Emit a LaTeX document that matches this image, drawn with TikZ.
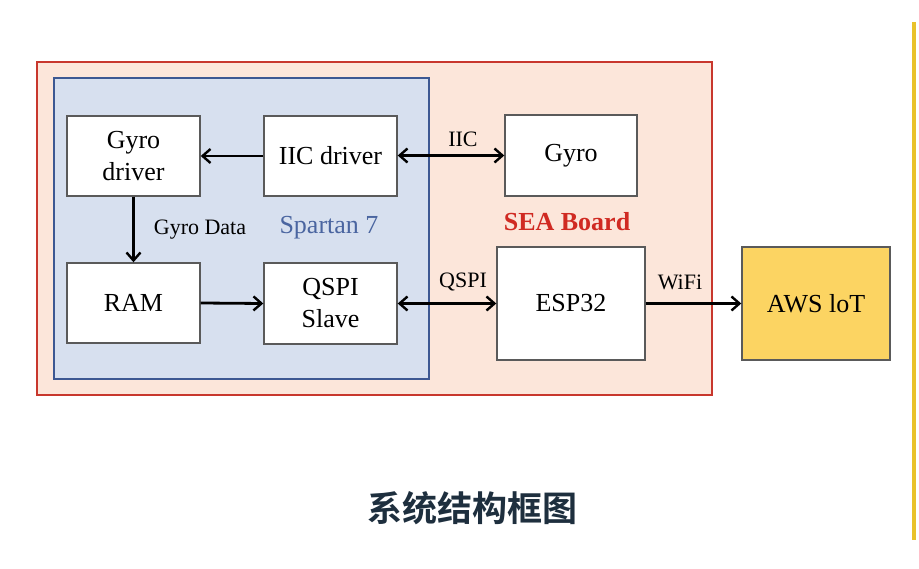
\documentclass[tikz,border=0pt]{standalone}
\usepackage{fontspec}
\setmainfont{Liberation Serif}
\newfontfamily\cjk{Noto Sans CJK SC}[BoldFont={Noto Sans CJK SC Bold}]
\usetikzlibrary{arrows.meta}
\definecolor{peach}{HTML}{FCE6DA}
\definecolor{redline}{HTML}{C8372D}
\definecolor{bluefill}{HTML}{D7E0EF}
\definecolor{blueline}{HTML}{3D5892}
\definecolor{bluetext}{HTML}{4A65A0}
\definecolor{seared}{HTML}{D02A22}
\definecolor{awsfill}{HTML}{FCD462}
\definecolor{yline}{HTML}{E9C22A}
\definecolor{titlec}{HTML}{1E2F3E}
\definecolor{boxline}{HTML}{5A5A5A}
\begin{document}
\begin{tikzpicture}[x=1pt,y=-1pt,
  blockbox/.style={draw=boxline,line width=1.4pt,fill=white,inner sep=0pt,align=center,font=\fontsize{26}{32}\selectfont},
  tip/.style={},
  conn/.style={line width=2.8pt,-{Straight Barb[length=8pt,width=14pt,line width=2.4pt]}},
  bconn/.style={line width=2.8pt,{Straight Barb[length=8pt,width=14pt,line width=2.4pt]}-{Straight Barb[length=8pt,width=14pt,line width=2.4pt]}},
  lbl/.style={font=\fontsize{22}{24}\selectfont}]
\useasboundingbox (0,0) rectangle (919,569);
\fill[white] (0,0) rectangle (919,569);
% yellow vertical line
\draw[yline,line width=4pt] (914,22) -- (914,540);
% SEA board
\node[draw=redline,fill=peach,line width=2pt,minimum width=675pt,minimum height=333pt,inner sep=0pt] (sea) at (374.5,228.5) {};
% Spartan 7
\node[draw=blueline,fill=bluefill,line width=2pt,minimum width=375pt,minimum height=301pt,inner sep=0pt] (spartan) at (241.5,228.5) {};
% blocks
\node[blockbox,minimum width=133pt,minimum height=80pt] (gdrv) at (133.5,156) {Gyro\\driver};
\node[blockbox,minimum width=133pt,minimum height=80pt] (iic) at (330.5,156) {IIC driver};
\node[blockbox,minimum width=133pt,minimum height=80pt] (ram) at (133.5,303) {RAM};
\node[blockbox,minimum width=133pt,minimum height=81pt] (qspi) at (330.5,303.5) {QSPI\\Slave};
\node[blockbox,minimum width=132pt,minimum height=81pt] (gyro) at (571,155.5) {Gyro};
\node[blockbox,minimum width=148pt,minimum height=113pt] (esp) at (571,303.5) {ESP32};
\node[blockbox,fill=awsfill,minimum width=148pt,minimum height=113pt] (aws) at (816,303.5) {AWS loT};
% texts
\node[lbl] (gdata) at (200,230) {Gyro Data};
\node[font=\fontsize{26}{28}\selectfont,text=bluetext] (sp7) at (329,228) {Spartan 7};
\node[font=\bfseries\fontsize{26}{28}\selectfont,text=seared] (seat) at (567,222) {SEA Board};
\node[lbl] (iict) at (463,139) {IIC};
\node[lbl] (qspit) at (463,282) {QSPI};
\node[lbl] (wifit) at (680,282) {WiFi};
\node[font=\cjk\bfseries\fontsize{35}{38}\selectfont,text=titlec] (title) at (472,508) {系统结构框图};
% connectors
\draw[conn] (iic.west) -- (gdrv.east);
\draw[bconn] (iic.east |- gyro.west) -- (gyro.west);
\draw[conn] (gdrv.south) -- (ram.north);
\draw[conn] (ram.east) -- (qspi.west);
\draw[bconn] (qspi.east) -- (esp.west);
\draw[conn] (esp.east) -- (aws.west);
\end{tikzpicture}
\end{document}
